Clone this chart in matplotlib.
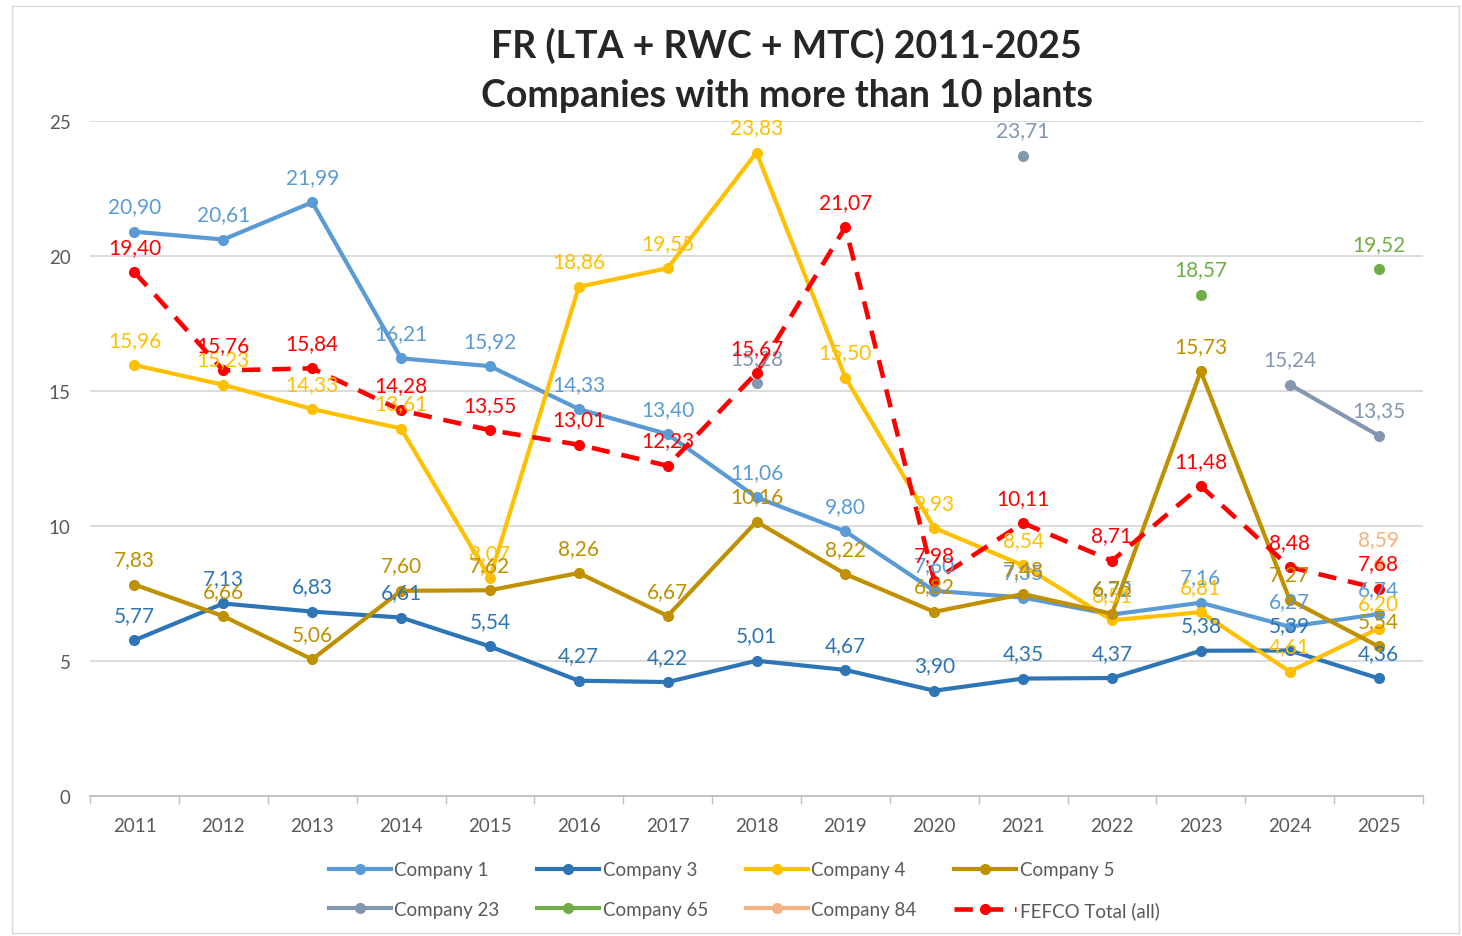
import matplotlib
matplotlib.use('Agg')
import matplotlib.pyplot as plt
import numpy as np
from matplotlib.patches import Rectangle

plt.rcParams['font.family'] = ['Lato', 'DejaVu Sans']

years = ['2011', '2012', '2013', '2014', '2015', '2016', '2017', '2018',
         '2019', '2020', '2021', '2022', '2023', '2024', '2025']
nan = np.nan

company_1 = [20.90, 20.61, 21.99, 16.21, 15.92, 14.33, 13.40, 11.06, 9.80, 7.60, 7.35, 6.72, 7.16, 6.27, 6.74]
company_3 = [5.77, 7.13, 6.83, 6.61, 5.54, 4.27, 4.22, 5.01, 4.67, 3.90, 4.35, 4.37, 5.38, 5.39, 4.36]
company_4 = [15.96, 15.23, 14.33, 13.61, 8.07, 18.86, 19.55, 23.83, 15.50, 9.93, 8.54, 6.51, 6.81, 4.61, 6.20]
company_5 = [7.83, 6.66, 5.06, 7.60, 7.62, 8.26, 6.67, 10.16, 8.22, 6.82, 7.48, 6.75, 15.73, 7.27, 5.54]
company_23 = [nan, nan, nan, nan, nan, nan, nan, 15.28, nan, nan, 23.71, nan, nan, 15.24, 13.35]
company_65 = [nan, nan, nan, nan, nan, nan, nan, nan, nan, nan, nan, nan, 18.57, nan, 19.52]
company_84 = [nan, nan, nan, nan, nan, nan, nan, nan, nan, nan, nan, nan, nan, nan, 8.59]
fefco_total = [19.40, 15.76, 15.84, 14.28, 13.55, 13.01, 12.23, 15.67, 21.07, 7.98, 10.11, 8.71, 11.48, 8.48, 7.68]

series = [
    ('Company 1', company_1, '#5B9BD5', '-'),
    ('Company 3', company_3, '#2E75B6', '-'),
    ('Company 4', company_4, '#FFC000', '-'),
    ('Company 5', company_5, '#BF9000', '-'),
    ('Company 23', company_23, '#8497B0', '-'),
    ('Company 65', company_65, '#70AD47', '-'),
    ('Company 84', company_84, '#F4B183', '-'),
    ('FEFCO Total (all)', fefco_total, '#FF0000', '--'),
]

fig = plt.figure(figsize=(14.62, 9.37), dpi=100)
ax = fig.add_axes([0.0616, 0.1494, 0.9117, 0.7204])

x = np.arange(len(years))
handles = []
for i, (name, vals, color, ls) in enumerate(series):
    vals = np.array(vals, dtype=float)
    if ls == '--':
        h, = ax.plot(x, vals, color=color, lw=3.3, ls=(0, (4, 2.6)), marker='o', ms=7,
                     label=name, zorder=3 + i)
    else:
        h, = ax.plot(x, vals, color=color, lw=3, marker='o', ms=7, label=name, zorder=3 + i)
    handles.append(h)
    for xi, v in zip(x, vals):
        if np.isnan(v):
            continue
        ax.annotate(f'{v:.2f}'.replace('.', ','), (xi, v), xytext=(0, 11),
                    textcoords='offset points', ha='center', va='bottom',
                    fontsize=15, color=color, zorder=20)

ax.set_xlim(-0.5, len(years) - 0.5)
ax.set_ylim(0, 25)
ax.set_yticks([0, 5, 10, 15, 20, 25])
ax.set_xticks(x)
ax.set_xticklabels(years)
ax.set_xticks(np.arange(-0.5, len(years)), minor=True)
ax.tick_params(axis='x', which='major', length=0, pad=15, labelsize=13.5, labelcolor='#595959')
ax.tick_params(axis='x', which='minor', length=6, color='#BFBFBF', width=1)
ax.tick_params(axis='y', length=0, pad=14, labelsize=13.5, labelcolor='#595959')
ax.grid(axis='y', color='#D9D9D9', lw=1.3)
ax.set_axisbelow(True)
for s in ['left', 'right', 'top']:
    ax.spines[s].set_visible(False)
ax.spines['bottom'].set_color('#BFBFBF')
ax.spines['bottom'].set_linewidth(1.3)

fig.text(0.538, 0.951, 'FR (LTA + RWC + MTC) 2011-2025', ha='center', va='center',
         fontsize=27, fontweight='bold', color='#262626')
fig.text(0.538, 0.898, 'Companies with more than 10 plants', ha='center', va='center',
         fontsize=27, fontweight='bold', color='#262626')

# legend fills column by column, so reorder to get row-wise order
order = [0, 4, 1, 5, 2, 6, 3, 7]
leg = fig.legend([handles[k] for k in order], [series[k][0] for k in order],
                 loc='center', bbox_to_anchor=(0.509, 0.049), ncol=4, frameon=False,
                 fontsize=13.5, labelcolor='#595959', handlelength=3.3, handletextpad=0.2,
                 columnspacing=2.0, labelspacing=1.2, numpoints=1)

fig.patches.append(Rectangle((0.008, 0.003), 0.99, 0.99, transform=fig.transFigure,
                             fill=False, edgecolor='#D9D9D9', lw=1))

fig.savefig('out.png', dpi=100)
